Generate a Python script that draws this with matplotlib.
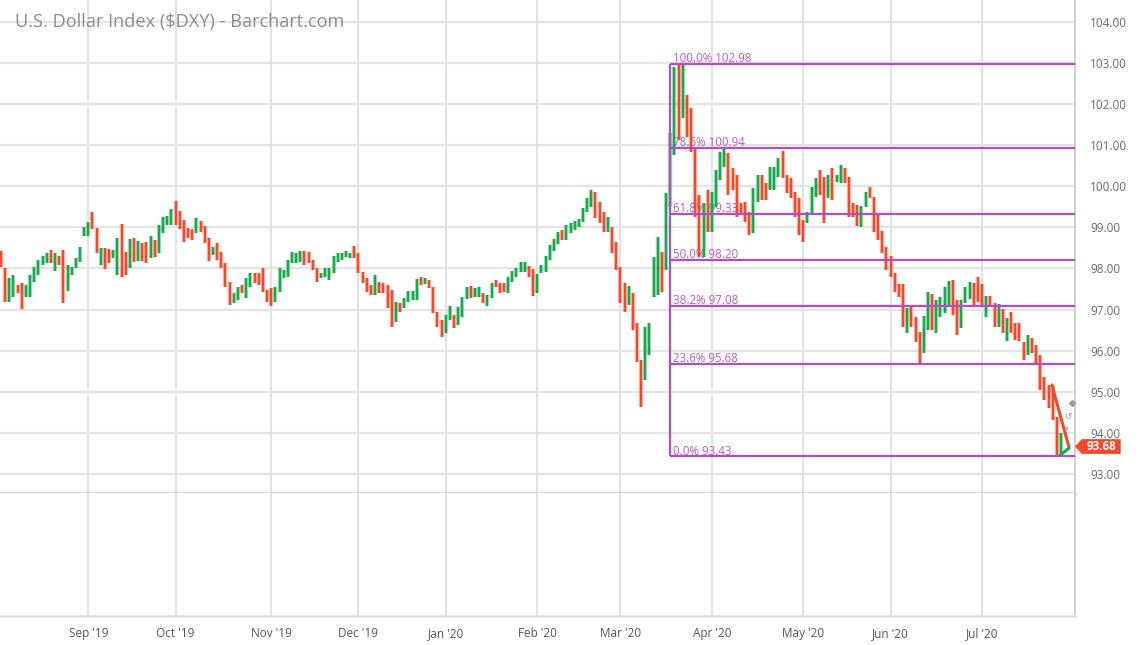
import numpy as np
import pandas as pd
import matplotlib
matplotlib.use("Agg")
import matplotlib.pyplot as plt
from matplotlib.patches import Polygon
from matplotlib.transforms import blended_transform_factory

plt.rcParams['font.family'] = ['Open Sans', 'DejaVu Sans']

# Daily bars of $DXY, 2 Aug 2019 - 28 Jul 2020 (no bar on 25 Dec / 1 Jan)
highs = [
    # Aug 2019
    98.43, 98.01, 97.77, 97.84, 97.60, 97.65, 97.60, 97.84, 98.04, 98.20, 98.30,
    98.38, 98.45, 98.38, 98.30, 98.45, 98.08, 98.03, 98.25, 98.52, 99.00,
    # Sep
    99.13, 99.37, 98.98, 98.50, 98.50, 98.47, 98.45, 98.74, 99.08, 98.40, 98.72,
    98.74, 98.67, 98.62, 98.65, 98.80, 98.70, 99.06, 99.25, 99.28, 99.45,
    # Oct
    99.64, 99.40, 99.18, 98.98, 98.95, 99.23, 99.16, 99.03, 98.74, 98.52, 98.62,
    98.40, 98.13, 97.67, 97.40, 97.55, 97.60, 97.77, 97.89, 97.89, 97.89, 98.01,
    97.48,
    # Nov
    97.53, 97.55, 98.01, 97.96, 98.20, 98.40, 98.38, 98.43, 98.43, 98.40, 98.20,
    98.01, 97.89, 98.01, 98.01, 98.30, 98.38, 98.38, 98.43, 98.38, 98.55,
    # Dec
    98.38, 97.91, 97.77, 97.60, 97.84, 97.67, 97.65, 97.60, 97.48, 97.18, 97.16,
    97.28, 97.45, 97.45, 97.74, 97.79, 97.77, 97.72, 97.55, 96.94, 96.75,
    # Jan 2020
    96.87, 97.09, 96.87, 97.06, 97.30, 97.55, 97.57, 97.53, 97.55, 97.40, 97.35,
    97.65, 97.72, 97.65, 97.65, 97.79, 97.94, 98.01, 98.16, 98.16, 98.06, 97.99,
    # Feb
    97.87, 98.08, 98.30, 98.57, 98.72, 98.89, 98.94, 99.06, 99.11, 99.16, 99.20,
    99.47, 99.72, 99.91, 99.86, 99.62, 99.37, 99.25, 99.01, 98.65,
    # Mar
    98.04, 97.65, 97.57, 97.40, 96.67, 95.77, 96.58, 96.67, 98.28, 98.77, 98.40,
    99.84, 101.30, 102.90, 102.98, 102.95, 102.22, 101.90, 100.96, 99.79, 99.60,
    99.91,
    # Apr
    99.86, 100.40, 100.83, 100.92, 100.81, 100.45, 100.28, 99.60, 99.62, 99.37,
    99.96, 100.28, 100.28, 100.08, 100.47, 100.47, 100.69, 100.86, 100.28, 100.20,
    99.86, 99.72,
    # May
    99.18, 99.37, 99.98, 100.20, 100.40, 100.23, 100.28, 100.45, 100.28, 100.52,
    100.45, 100.23, 99.60, 99.55, 99.52, 99.86, 99.98, 99.74, 99.30, 98.90, 98.53,
    # Jun
    98.30, 97.89, 97.62, 97.62, 97.04, 97.07, 96.83, 96.46, 96.84, 97.44, 97.38,
    97.23, 97.31, 97.55, 97.70, 97.72, 97.23, 97.23, 97.55, 97.68, 97.64, 97.79,
    # Jul
    97.62, 97.33, 97.33, 97.17, 97.13, 97.01, 96.79, 96.95, 96.67, 96.68, 96.22,
    96.38, 96.30, 96.14, 95.90, 95.37, 95.17, 95.17, 94.39, 93.99,
]
lows = [
    # Aug 2019
    98.04, 97.18, 97.18, 97.30, 97.40, 97.01, 97.30, 97.30, 97.67, 97.84, 98.08,
    98.13, 98.13, 97.94, 98.08, 97.16, 97.45, 97.84, 98.01, 98.16, 98.80,
    # Sep
    98.80, 98.96, 98.37, 98.08, 97.99, 98.13, 98.26, 97.84, 97.80, 97.84, 98.01,
    98.16, 98.18, 98.18, 98.13, 98.25, 98.28, 98.38, 98.86, 99.06, 99.06,
    # Oct
    99.06, 98.96, 98.65, 98.74, 98.70, 98.86, 98.89, 98.62, 98.18, 98.33, 98.20,
    98.01, 97.55, 97.11, 97.16, 97.23, 97.40, 97.28, 97.55, 97.65, 97.60, 97.43,
    97.18,
    # Nov
    97.09, 97.18, 97.43, 97.77, 97.79, 98.13, 98.13, 98.16, 98.08, 98.13, 97.96,
    97.67, 97.77, 97.79, 97.72, 97.89, 98.16, 98.20, 98.28, 98.26, 98.26,
    # Dec
    97.89, 97.65, 97.43, 97.35, 97.35, 97.40, 97.40, 97.04, 96.58, 96.70, 96.94,
    97.04, 97.18, 97.23, 97.23, 97.60, 97.62, 97.53, 96.91, 96.58, 96.33,
    # Jan 2020
    96.43, 96.75, 96.55, 96.62, 96.82, 97.26, 97.28, 97.30, 97.30, 97.16, 97.09,
    97.28, 97.55, 97.40, 97.43, 97.40, 97.67, 97.79, 97.91, 97.91, 97.79, 97.33,
    # Feb
    97.40, 97.89, 97.91, 98.20, 98.43, 98.60, 98.69, 98.69, 98.86, 98.94, 99.01,
    99.13, 99.37, 99.50, 99.23, 99.11, 98.89, 98.89, 98.38, 97.96,
    # Mar
    97.16, 96.94, 97.11, 96.50, 95.73, 94.63, 95.29, 95.90, 97.30, 97.35, 97.43,
    97.96, 99.50, 100.76, 101.13, 101.66, 101.20, 100.83, 99.25, 98.28, 98.28,
    98.89,
    # Apr
    98.89, 99.50, 100.15, 100.47, 99.79, 99.91, 99.25, 99.30, 99.13, 98.81,
    98.86, 99.62, 99.67, 99.67, 99.91, 99.91, 100.23, 100.20, 99.84, 99.72,
    99.25, 98.81,
    # May
    98.65, 99.11, 99.30, 99.74, 99.79, 99.11, 99.72, 99.67, 100.10, 100.08,
    100.08, 99.25, 99.25, 99.03, 99.00, 99.50, 99.72, 98.89, 98.69, 98.38, 97.96,
    # Jun
    97.79, 97.44, 97.31, 96.58, 96.44, 96.58, 96.22, 95.70, 95.95, 96.50, 96.50,
    96.43, 96.83, 96.92, 97.07, 96.87, 96.38, 96.55, 97.15, 97.27, 97.11, 97.19,
    # Jul
    97.11, 96.82, 97.07, 96.58, 96.57, 96.42, 96.24, 96.44, 96.26, 96.24, 95.77,
    95.90, 95.94, 95.69, 95.04, 94.80, 94.60, 94.31, 93.43, 93.46,
]
# bar colour as shown: G = up day, R = down day
direction = (
    "RRGGRRGGGGGGRGRRGGGGG"        # Aug
    "GRRGRRGGRRGRGRRGRGGGG"        # Sep
    "RRRRRGRRRGRRRRGGRGGRRRR"      # Oct
    "RGGGGGGGRRRRGGGGGGGGR"        # Nov
    "RRRRGRRRRGRGGGGRGRRRR"        # Dec
    "GGRGGGRGGRGGRRRGGGGGRR"       # Jan
    "GGGGGGRGGGGGGGRRRGRR"         # Feb
    "RRGRRRGGGGRGGGRGRRRRGR"       # Mar
    "GGGGRRRRRRGGRRGGGRRRRR"       # Apr
    "RGGGRRGRGGRRRRGGRRRRR"        # May
    "RRRRGRRRGGRGGGGRRGGGRR"       # Jun
    "RGRRGRGRRRRGRRRRRRRG"         # Jul
)
last_price = 93.68

# Fibonacci retracement drawn on the chart
fib_pct = ["100.0%", "78.6%", "61.8%", "50.0%", "38.2%", "23.6%", "0.0%"]
fib_lvl = [102.98, 100.94, 99.33, 98.20, 97.08, 95.68, 93.43]
fib_start = 161  # bar where the retracement box begins

# hand drawn marks at the right edge (bar index, price)
red_mark_x, red_mark_y = [252.8, 256.9], [95.17, 93.66]
green_mark_x, green_mark_y = [254.8, 256.9], [93.46, 93.63]

dates = pd.bdate_range("2019-08-02", "2020-07-28")
dates = dates[~dates.isin(pd.to_datetime(["2019-12-25", "2020-01-01"]))]
n = len(dates)
x = np.arange(n)

month = dates.to_period("M")
starts = [i for i in range(1, n) if month[i] != month[i - 1]]
month_labels = [dates[i].strftime("%b '%y") for i in starts]

RED = "#ef4a2b"
GREEN = "#17a84b"
FIB = "#b64bc9"
colors = [GREEN if d == "G" else RED for d in direction]

fig = plt.figure(figsize=(11.45, 6.45), dpi=100)
ax = fig.add_axes([0, 1 - 493 / 645, 1075 / 1145, 493 / 645])
ax2 = fig.add_axes([0, 1 - 616 / 645, 1075 / 1145, 123 / 645], sharex=ax)

xmin, xmax = -0.24, 258.36
ax.set_xlim(xmin, xmax)
ax.set_ylim(92.54, 104.53)

# grid
for a in (ax, ax2):
    for s in starts:
        a.axvline(s, color="#dadada", lw=1.1, zorder=0)
for p in range(93, 105):
    ax.axhline(p, color="#e4e4e4", lw=1.6, zorder=0)

# bars: light halo + solid core
ax.vlines(x, lows, highs, colors=colors, lw=3.2, alpha=0.35, zorder=2)
ax.vlines(x, lows, highs, colors=colors, lw=1.6, zorder=3)

# fibonacci retracement
ax.hlines(fib_lvl, fib_start, xmax, color=FIB, lw=1.6, zorder=4)
ax.vlines(fib_start, fib_lvl[-1], fib_lvl[0], color=FIB, lw=1.6, zorder=4)
for pct, lvl in zip(fib_pct, fib_lvl):
    ax.text(fib_start + 0.65, lvl + 0.045, f"{pct} {lvl:.2f}", color="#b45ccb",
            fontsize=8.3, va="baseline", ha="left", zorder=1)

# hand drawn marks and tool icons
ax.plot(red_mark_x, red_mark_y, color=RED, lw=2.2, solid_capstyle="round", zorder=5)
ax.plot(green_mark_x, green_mark_y, color=GREEN, lw=2.2, solid_capstyle="round", zorder=5)
ax.plot([257.6], [94.73], marker="D", ms=3, color="#9a9a9a", zorder=5, clip_on=False)
ax.text(256.7, 94.41, "\u21ba", fontsize=6.5, color="#9a9a9a", ha="center", va="center",
        family="DejaVu Sans", zorder=5)
ax.plot([256.2], [94.12], marker="o", ms=1.5, color="#b0b0b0", zorder=5)

# last price tag
tr = blended_transform_factory(ax.transAxes, ax.transData)
h = 0.18
yc = last_price - 0.01
tag = Polygon([[1.0, yc], [1.0062, yc + h], [1.0425, yc + h],
               [1.0425, yc - h], [1.0062, yc - h]],
              closed=True, transform=tr, facecolor=RED, edgecolor="none",
              clip_on=False, zorder=6)
ax.add_patch(tag)
ax.text(1.0245, yc, f"{last_price:.2f}", transform=tr, color="white",
        fontsize=8.5, fontweight="bold", ha="center", va="center", zorder=7,
        clip_on=False)

# axes styling
ax.yaxis.tick_right()
ax.set_yticks(range(93, 105))
ax.set_yticklabels([f"{p:.2f}" for p in range(93, 105)])
ax.tick_params(axis="y", length=0, pad=11, labelsize=8.5, labelcolor="#6a6a6a")
ax.tick_params(axis="x", length=0, labelbottom=False)
for a in (ax, ax2):
    a.spines["top"].set_visible(False)
    a.spines["left"].set_visible(False)
    a.spines["right"].set_color("#cfcfcf")
    a.spines["right"].set_linewidth(1.4)
ax.spines["bottom"].set_color("#c9c9c9")
ax.spines["bottom"].set_linewidth(1.8)
ax2.spines["bottom"].set_color("#dedede")
ax2.spines["bottom"].set_linewidth(1.8)

ax2.set_yticks([])
ax2.set_xticks(starts)
ax2.set_xticklabels(month_labels)
ax2.tick_params(axis="x", length=0, pad=8, labelsize=8.5, labelcolor="#555555")

fig.text(15 / 1145, 1 - 22 / 645, "U.S. Dollar Index ($DXY) - Barchart.com",
         fontsize=13.1, color="#8c8c8c", va="center", ha="left")

fig.savefig("out.png", dpi=100)
